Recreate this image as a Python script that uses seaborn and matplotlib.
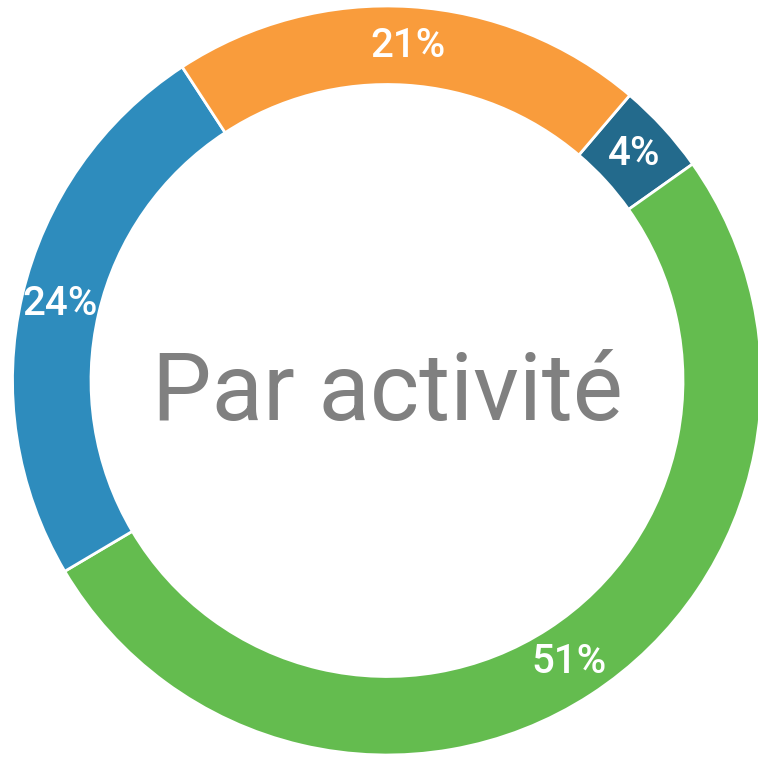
import matplotlib
matplotlib.use("Agg")
import matplotlib.pyplot as plt
import seaborn as sns
import numpy as np

# Data (clockwise order starting at the small dark-blue slice)
categories = ["A", "B", "C", "D"]
shares = [3.97, 51.3, 24.3, 20.43]
labels_txt = ["4%", "51%", "24%", "21%"]
colors = ["#236a8c", "#64bc4f", "#2e8cbd", "#f99c3c"]
center_title = "Par activité"

sns.set_theme(style="white")
plt.rcParams["font.family"] = ["Roboto", "DejaVu Sans"]

W, H, DPI = 758, 757, 100
fig = plt.figure(figsize=(W / DPI, H / DPI), dpi=DPI)
ax = fig.add_axes([0, 0, 1, 1])

R_PX = 374.5
CX, CY = 387.0, 380.5

palette = sns.color_palette(colors)
wedges, _ = ax.pie(
    shares,
    colors=palette,
    startangle=49.6,
    counterclock=False,
    radius=1.0,
    wedgeprops=dict(width=78.5 / R_PX, edgecolor="white", linewidth=2),
    frame=True,
)
ax.set_xlim(-CX / R_PX, (W - CX) / R_PX)
ax.set_ylim(-(H - CY) / R_PX, CY / R_PX)
ax.set_aspect("equal")
ax.axis("off")

rmid = 0.895
for w, t in zip(wedges, labels_txt):
    ang = np.deg2rad((w.theta1 + w.theta2) / 2)
    ax.text(rmid * np.cos(ang), rmid * np.sin(ang), t, color="white",
            fontsize=29, fontweight="medium", ha="center", va="center")

ax.text(0.0, (CY - 420) / R_PX, center_title, color="#808080",
        fontsize=68, ha="center", va="baseline")

fig.savefig("out.png", dpi=DPI, facecolor="white")
